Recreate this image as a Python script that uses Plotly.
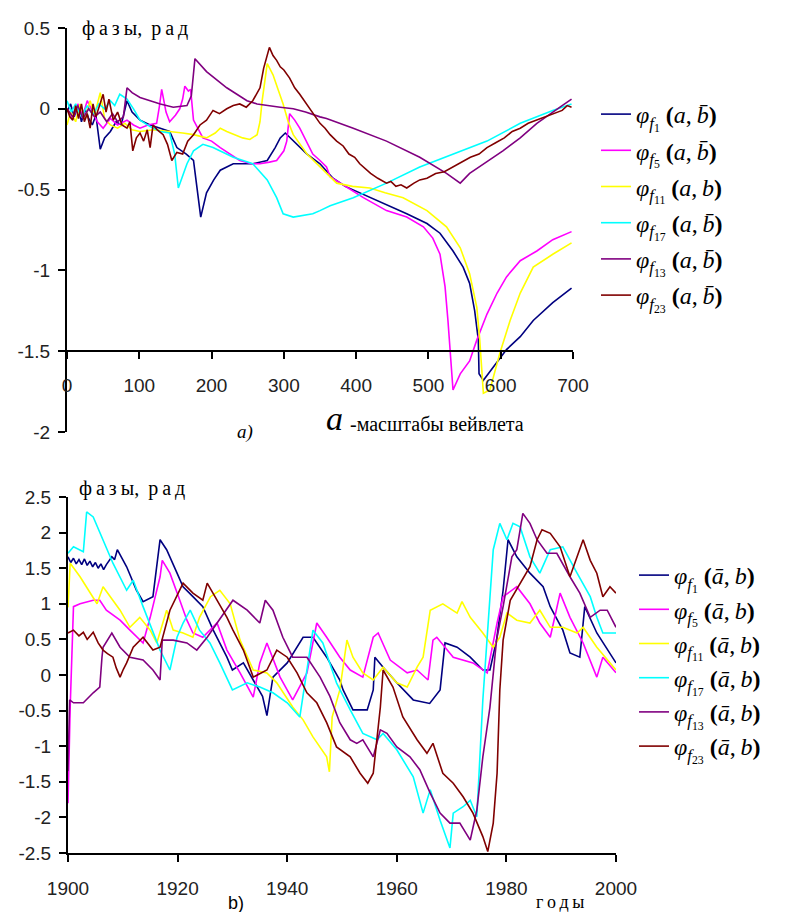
import plotly.graph_objects as go

# ---------------- Chart a) : phases vs wavelet scale ----------------
A_F1_X = [0, 5, 10, 15, 20, 25, 30, 35, 40, 46, 52, 60, 68, 75, 83, 90, 101, 115, 129, 142, 152, 165, 175, 185,
          193, 203, 212, 230, 257, 277, 288, 295, 302, 313, 332, 350, 368, 385, 405, 425, 442, 470, 498, 516,
          534, 548, 557, 564, 569, 570, 576, 590, 608, 627, 645, 672, 698]
A_F1_Y = [-0.02, 0.03, -0.05, 0.02, -0.08, 0.0, -0.06, -0.1, -0.04, -0.25, -0.18, -0.14, -0.08, -0.1, 0.05, -0.02,
          -0.07, -0.1, -0.12, -0.14, -0.24, -0.28, -0.32, -0.67, -0.52, -0.44, -0.38, -0.34, -0.34, -0.32, -0.24,
          -0.18, -0.15, -0.2, -0.28, -0.34, -0.43, -0.48, -0.52, -0.56, -0.59, -0.65, -0.71, -0.77, -0.88, -0.98,
          -1.08, -1.25, -1.43, -1.64, -1.68, -1.6, -1.49, -1.41, -1.31, -1.2, -1.11]

A_F5_X = [0, 8, 15, 22, 28, 35, 42, 50, 60, 70, 83, 92, 101, 112, 124, 128, 131, 134, 137, 142, 150, 156, 160, 163,
          168, 171, 175, 188, 200, 212, 225, 239, 255, 267, 280, 290, 300, 304, 308, 315, 322, 330, 340, 350, 359,
          364, 385, 410, 442, 470, 493, 506, 516, 523, 527, 532, 534, 544, 557, 567, 581, 595, 608, 627, 650, 672, 698]
A_F5_Y = [0.0, -0.06, 0.03, -0.04, 0.05, -0.02, -0.08, -0.12, -0.06, -0.1, -0.07, -0.1, -0.12, -0.1, -0.09, 0.02,
          0.12, 0.05, -0.02, -0.08, -0.04, 0.0, 0.06, 0.14, 0.11, 0.12, -0.07, -0.18, -0.2, -0.24, -0.28, -0.32,
          -0.34, -0.34, -0.33, -0.32, -0.26, -0.2, -0.03, -0.07, -0.12, -0.19, -0.28, -0.32, -0.36, -0.42, -0.48,
          -0.55, -0.63, -0.67, -0.73, -0.8, -0.9, -1.1, -1.31, -1.62, -1.74, -1.64, -1.56, -1.43, -1.27, -1.14,
          -1.04, -0.94, -0.88, -0.81, -0.76]

A_F11_X = [0, 5, 12, 18, 25, 32, 38, 46, 52, 60, 70, 80, 90, 101, 120, 142, 160, 175, 193, 205, 212, 221, 232, 243,
           253, 263, 267, 270, 277, 285, 292, 299, 306, 313, 332, 350, 373, 395, 419, 440, 465, 498, 525, 544, 557,
           567, 571, 576, 585, 599, 613, 627, 645, 672, 698]
A_F11_Y = [-0.1, -0.02, -0.08, 0.03, -0.06, 0.05, -0.04, 0.1, -0.06, -0.1, -0.12, -0.09, -0.13, -0.14, -0.13, -0.14,
           -0.15, -0.16, -0.18, -0.15, -0.12, -0.14, -0.16, -0.18, -0.19, -0.16, -0.08, 0.05, 0.28, 0.21, 0.12, 0.03,
           -0.08, -0.16, -0.28, -0.36, -0.46, -0.48, -0.49, -0.52, -0.55, -0.63, -0.73, -0.86, -1.02, -1.23, -1.43,
           -1.76, -1.74, -1.51, -1.31, -1.14, -0.98, -0.9, -0.83]

A_F17_X = [0, 6, 12, 20, 28, 36, 44, 52, 60, 66, 73, 83, 92, 101, 115, 129, 142, 149, 154, 160, 166, 175, 188, 202,
           215, 230, 257, 277, 290, 299, 313, 340, 350, 364, 396, 442, 488, 534, 581, 627, 672, 698]
A_F17_Y = [0.05, -0.02, 0.03, -0.05, 0.02, -0.04, 0.03, 0.0, 0.05, 0.02, 0.09, 0.06, 0.0, -0.07, -0.11, -0.14, -0.15,
           -0.28, -0.49, -0.42, -0.34, -0.26, -0.22, -0.24, -0.27, -0.3, -0.34, -0.44, -0.55, -0.65, -0.67, -0.65,
           -0.63, -0.6, -0.55, -0.46, -0.36, -0.28, -0.2, -0.09, -0.01, 0.03]

A_F13_X = [0, 8, 15, 22, 30, 38, 46, 55, 63, 70, 78, 81, 83, 90, 101, 115, 129, 147, 166, 172, 175, 177, 193, 207,
           221, 235, 249, 263, 277, 295, 313, 330, 350, 359, 396, 442, 488, 525, 544, 557, 580, 603, 627, 650, 682, 698]
A_F13_Y = [0.0, -0.05, 0.02, -0.06, 0.0, -0.05, -0.02, -0.08, -0.03, -0.08, -0.05, 0.08, 0.13, 0.1, 0.07, 0.05, 0.03,
           0.01, 0.02, 0.08, 0.2, 0.31, 0.23, 0.18, 0.13, 0.09, 0.05, 0.03, 0.02, 0.01, 0.0, -0.02, -0.05, -0.06,
           -0.12, -0.2, -0.3, -0.4, -0.46, -0.4, -0.33, -0.26, -0.18, -0.09, 0.01, 0.06]

A_F23_X = [0, 4, 8, 12, 16, 20, 24, 28, 32, 36, 40, 45, 50, 54, 58, 64, 70, 76, 83, 87, 91, 96, 101, 106, 111, 115,
           119, 125, 133, 139, 145, 152, 160, 167, 175, 184, 193, 202, 211, 221, 230, 239, 248, 257, 262, 267, 272,
           276, 280, 285, 290, 295, 300, 308, 315, 322, 330, 340, 350, 357, 364, 373, 382, 390, 398, 405, 412, 420,
           430, 442, 448, 455, 462, 470, 480, 488, 498, 510, 522, 534, 546, 558, 570, 581, 593, 605, 616, 627, 638,
           650, 661, 672, 685, 692, 698]
A_F23_Y = [0.0, -0.05, -0.07, 0.02, -0.06, 0.03, -0.08, -0.03, -0.12, 0.03, -0.05, 0.02, 0.09, -0.02, 0.06, -0.07,
           -0.02, -0.1, -0.12, -0.08, -0.26, -0.18, -0.15, -0.2, -0.13, -0.24, -0.1, -0.13, -0.16, -0.22, -0.32,
           -0.27, -0.28, -0.2, -0.16, -0.1, -0.07, -0.01, -0.03, 0.0, 0.02, 0.03, 0.01, 0.05, 0.09, 0.13, 0.25, 0.32,
           0.38, 0.33, 0.3, 0.26, 0.24, 0.19, 0.13, 0.09, 0.04, -0.03, -0.09, -0.12, -0.16, -0.2, -0.23, -0.28,
           -0.3, -0.34, -0.37, -0.4, -0.43, -0.46, -0.45, -0.48, -0.47, -0.49, -0.46, -0.44, -0.43, -0.4, -0.39,
           -0.36, -0.33, -0.3, -0.28, -0.24, -0.21, -0.18, -0.14, -0.12, -0.09, -0.07, -0.05, -0.03, -0.01, 0.02, 0.01]

# ---------------- Chart b) : phases vs years ----------------
B_F1_X = [1900, 1900.5, 1901, 1901.5, 1902, 1902.5, 1903, 1903.5, 1904, 1904.5, 1905, 1905.5, 1906, 1906.5, 1907,
          1907.5, 1908, 1908.5, 1909, 1910.7, 1912.5, 1913.7, 1915.5, 1916.8, 1918,
          1919.9, 1921, 1922.8, 1924.6, 1926.5, 1929, 1930, 1932, 1933.8, 1935.5, 1936.3, 1937.4, 1940, 1942.9,
          1944.7, 1947.2, 1949.6, 1950.2, 1952, 1954.6, 1955.7, 1956, 1957.5, 1960, 1963, 1966, 1967.9, 1968.8,
          1971, 1973.4, 1975.7, 1977, 1978.2, 1979.4, 1980.3, 1981.9, 1984.3, 1986.7, 1988, 1990.3, 1991.6,
          1993.4, 1994.3, 1996.5, 2000]
B_F1_Y = [1.66, 1.58, 1.64, 1.56, 1.62, 1.55, 1.63, 1.54, 1.6, 1.52, 1.58, 1.5, 1.56, 1.48, 1.55,
          1.6, 1.66, 1.62, 1.76, 1.52, 1.19, 1.03, 1.1, 1.9, 1.76, 1.43, 1.24,
          1.1, 0.96, 0.63, 0.25, 0.07, 0.17, -0.07, -0.3, -0.57, -0.03, 0.17, 0.53, 0.53, 0.25, -0.07, -0.21, -0.49,
          -0.49, -0.21, 0.25, 0.11, -0.11, -0.35, -0.4, -0.21, 0.45, 0.39, 0.25, 0.07, 0.07, 0.49, 1.19, 1.9, 1.66,
          1.43, 1.24, 0.96, 0.63, 0.31, 0.25, 0.96, 0.59, 0.17]

B_F5_X = [1900, 1900.4, 1901, 1902.2, 1904.6, 1905.8, 1907, 1909.5, 1911.3, 1913.7, 1915, 1916.8, 1917.2, 1918.6,
          1920.4, 1921.7, 1922.8, 1924.6, 1927.2, 1929, 1931.4, 1933.8, 1935, 1936.3, 1938.7, 1941, 1943.6, 1945.4,
          1947.2, 1949.6, 1951.5, 1953.8, 1955.7, 1956.6, 1958.8, 1961.9, 1963.7, 1965.7, 1966.6, 1967.3, 1970.3,
          1973.9, 1976.5, 1978.3, 1979.4, 1981.9, 1984.3, 1986.1, 1988, 1989.8, 1991.6, 1994, 1996.5, 1997.6, 2000]
B_F5_Y = [-1.8, -0.45, 0.96, 1.0, 1.05, 1.05, 0.91, 0.77, 0.63, 0.45, 0.81, 1.38, 1.61, 1.43, 1.05, 0.77, 0.59, 0.53,
          0.73, 0.35, 0.03, -0.31, 0.17, 0.45, -0.03, -0.35, 0.03, 0.73, 0.53, 0.25, 0.07, -0.03, 0.53, 0.59, 0.21,
          0.03, 0.07, -0.07, 0.49, 0.53, 0.25, 0.17, 0.03, 0.73, 1.1, 1.24, 1.0, 0.73, 0.53, 1.15, 0.81, 0.45,
          -0.03, 0.25, 0.03]

B_F11_X = [1900, 1900.4, 1902.2, 1903.4, 1905.3, 1906.4, 1907.7, 1909.5, 1911.3, 1913.1, 1915, 1916.2, 1918, 1919.2,
           1921, 1922.8, 1924, 1926, 1927.7, 1929.6, 1931.4, 1933.8, 1936.3, 1938.1, 1941, 1942.9, 1944.7, 1947.2,
           1947.7, 1948.2, 1949.6, 1950.9, 1952, 1953.8, 1955.7, 1957.5, 1960, 1961.9, 1963.7, 1964.8, 1966.1,
           1968.4, 1971, 1971.9, 1973.4, 1975.7, 1977.6, 1978.8, 1980.1, 1981.9, 1984.3, 1986.1, 1988, 1990.3,
           1992.9, 1994, 1996.5, 2000]
B_F11_Y = [0.95, 1.57, 1.38, 1.24, 1.0, 1.24, 1.1, 0.91, 0.67, 0.81, 0.63, 0.45, 0.91, 0.63, 0.59, 0.53, 0.81, 1.1,
           1.19, 1.0, 0.49, 0.07, 0.03, -0.11, -0.45, -0.63, -0.87, -1.15, -1.36, -0.59, -0.21, 0.49, 0.25, 0.03,
           -0.07, 0.11, -0.11, -0.17, 0.11, 0.25, 0.91, 1.0, 0.87, 1.03, 0.81, 0.59, 0.39, 0.53, 0.87, 0.77, 0.73,
           0.91, 0.67, 0.67, 0.59, 0.67, 0.39, 0.07]

B_F17_X = [1900, 1901, 1902.8, 1903.4, 1904.6, 1906.4, 1908.2, 1910.7, 1911.9, 1913.7, 1915.5, 1916.8, 1918.6,
           1919.9, 1921, 1922.3, 1924, 1925.9, 1927.7, 1930, 1932.7, 1935, 1937.4, 1940, 1942.3, 1944.7, 1946.5,
           1949, 1951.5, 1953.8, 1956.4, 1957.5, 1960, 1963, 1964.8, 1966.1, 1967.9, 1969.7, 1970.3, 1972.1,
           1973.4, 1974.6, 1975.7, 1977, 1977.6, 1978.8, 1980.1, 1981.2, 1982.5, 1984.3, 1986.1, 1988, 1990.3,
           1992.9, 1995.3, 1996.5, 1997.6, 2000]
B_F17_Y = [1.71, 1.8, 1.73, 2.29, 2.22, 1.9, 1.57, 1.19, 1.33, 0.96, 0.59, 0.35, 0.07, 0.53, 0.73, 0.91, 0.63, 0.45,
           0.17, -0.21, -0.11, -0.17, -0.25, -0.39, -0.59, 0.63, 0.45, -0.11, -0.49, -0.82, -0.91, -0.82, -1.05,
           -1.43, -1.94, -1.61, -2.04, -2.43, -1.94, -1.85, -1.76, -1.99, -0.35, 1.19, 1.76, 2.13, 1.9, 2.13, 2.08,
           1.66, 1.43, 1.76, 1.8, 1.43, 1.1, 0.81, 0.59, 0.59]

B_F13_X = [1900, 1900.3, 1901, 1902.8, 1904.6, 1905.8, 1906.2, 1906.4, 1908, 1909.5, 1911.3, 1913.7, 1915.5, 1916.8,
           1917.2, 1919.2, 1921.7, 1923.5, 1925.4, 1927.2, 1930.1, 1932.7, 1935, 1936, 1937.4, 1939.2, 1941, 1943.6,
           1946, 1947.8, 1949.6, 1951.5, 1952.7, 1953.8, 1955.7, 1957, 1958.2, 1960, 1962.4, 1964.2, 1966.1, 1967.9,
           1969.7, 1971.5, 1973.4, 1974.6, 1975.7, 1977, 1978.2, 1979.4, 1981, 1981.9, 1983, 1984.3, 1985.6, 1987.4,
           1989.2, 1991.6, 1993.4, 1995.3, 1997.1, 1998.4, 2000]
B_F13_Y = [-1.35, -0.35, -0.39, -0.39, -0.25, -0.17, 0.25, 0.39, 0.59, 0.39, 0.25, 0.21, 0.07, -0.07, 0.49, 0.49,
           0.45, 0.35, 0.53, 0.73, 1.05, 0.91, 0.73, 1.05, 0.91, 0.53, 0.25, 0.25, -0.03, -0.3, -0.67, -0.91, -0.96,
           -0.91, -1.15, -0.77, -0.82, -1.01, -1.15, -1.33, -1.66, -1.94, -2.08, -2.08, -2.32, -1.9, -1.15, -0.45,
           0.49, 0.96, 1.66, 1.76, 2.27, 2.13, 1.9, 1.71, 1.71, 1.38, 1.15, 0.81, 0.91, 0.91, 0.67]

B_F23_X = [1900, 1901, 1902, 1902.8, 1903.5, 1904.6, 1905.5, 1906.4, 1907.2, 1908.2, 1908.8, 1909.5, 1910.1, 1910.7,
           1911.9, 1913.7, 1915.5, 1916.8, 1918.6, 1921,
           1922.8, 1924.6, 1925.4, 1927.2, 1929, 1930.1, 1932, 1933.8, 1936.3, 1938.1, 1940, 1941.8, 1943.6, 1945.4,
           1947.2, 1949, 1951.5, 1953.3, 1954.7, 1955.7, 1957, 1957.5, 1959.3, 1961.1, 1963.7, 1965.5, 1966.6,
           1968.4, 1970.3, 1972.1, 1973.9, 1975.7, 1976.6, 1977.6, 1978.3, 1978.8, 1979.4, 1980.7, 1982.5, 1984.3,
           1985.6, 1986.5, 1988, 1989.8, 1991.6, 1992.9, 1994, 1995.3, 1996.5, 1997.6, 1998.9, 2000]
B_F23_Y = [0.59, 0.63, 0.55, 0.6, 0.5, 0.6, 0.45, 0.35, 0.3, 0.25, 0.1, -0.03, 0.08, 0.17,
           0.39, 0.53, 0.35, 0.39, 0.91, 1.29, 1.15, 1.05, 1.29,
           1.05, 0.81, 0.63, 0.35, -0.03, 0.07, 0.35, 0.25, 0.03, -0.25, -0.39, -0.67, -1.01, -1.15, -1.38, -1.52,
           -1.38, -0.45, 0.07, -0.17, -0.59, -0.91, -1.1, -0.96, -1.38, -1.52, -1.71, -1.94, -2.27, -2.48, -2.08,
           -1.38, -0.21, 0.49, 1.05, 1.29, 1.52, 1.9, 2.04, 1.99, 1.8, 1.38, 1.66, 1.9, 1.61, 1.43, 1.1, 1.24, 1.15]

COLORS = ["#000080", "#FF00FF", "#FFFF00", "#00FFFF", "#800080", "#800000"]
SUBS = ["1", "5", "11", "17", "13", "23"]
ARGS_A = ["b̄", "b̄", "b", "b̄", "b̄", "b̄"]

A_TICKS_X = [0, 100, 200, 300, 400, 500, 600, 700]
A_TICKS_Y = [0.5, 0, -0.5, -1, -1.5, -2]
A_TICKTEXT_Y = ["0.5", "0", "-0.5", "-1", "-1.5", "-2"]
B_TICKS_X = [1900, 1920, 1940, 1960, 1980, 2000]
B_TICKS_Y = [2.5, 2, 1.5, 1, 0.5, 0, -0.5, -1, -1.5, -2, -2.5]
B_TICKTEXT_Y = ["2.5", "2", "1.5", "1", "0.5", "0", "-0.5", "-1", "-1.5", "-2", "-2.5"]

# The page body has an 8px margin, so the figure is drawn 8px smaller and all
# reference pixel positions are shifted by that offset.
OFF = 8
W, H = 785 - OFF, 912 - OFF
SANS = "Liberation Sans, Arial, sans-serif"
SERIF = "Liberation Serif, Times New Roman, serif"


def px_x(p):
    return (p - OFF) / W


def px_y(p):
    return 1 - (p - OFF) / H


def label_a(i):
    return ("<i>φ</i><sub><i>f</i><sub>%s</sub></sub> <b>(</b><i>a</i>,\u2009<i>%s</i><b>)</b>"
            % (SUBS[i], ARGS_A[i]))


def label_b(i):
    return ("<i>φ</i><sub><i>f</i><sub>%s</sub></sub> <b>(</b><i>ā</i>,\u2009<i>b</i><b>)</b>" % SUBS[i])


fig = go.Figure()
A_DATA = [(A_F1_X, A_F1_Y), (A_F5_X, A_F5_Y), (A_F11_X, A_F11_Y), (A_F17_X, A_F17_Y), (A_F13_X, A_F13_Y),
          (A_F23_X, A_F23_Y)]
B_DATA = [(B_F1_X, B_F1_Y), (B_F5_X, B_F5_Y), (B_F11_X, B_F11_Y), (B_F17_X, B_F17_Y), (B_F13_X, B_F13_Y),
          (B_F23_X, B_F23_Y)]

for i, (xs, ys) in enumerate(A_DATA):
    fig.add_trace(go.Scatter(x=xs, y=ys, mode="lines", line=dict(color=COLORS[i], width=1.6),
                             name=label_a(i), xaxis="x", yaxis="y", legend="legend",
                             legendgroup="a%d" % i))
for i, (xs, ys) in enumerate(B_DATA):
    fig.add_trace(go.Scatter(x=xs, y=ys, mode="lines", line=dict(color=COLORS[i], width=1.6),
                             name=label_b(i), xaxis="x2", yaxis="y2", legend="legend2",
                             legendgroup="b%d" % i))

# axis geometry (pixels)
A_X0, A_X1 = 67, 573
A_Y_TOP, A_Y_BOT = 28, 432      # value 0.5 and -2
A_AXIS_Y = A_Y_TOP + (0.5 - (-1.5)) / 2.5 * (A_Y_BOT - A_Y_TOP)
B_X0, B_X1 = 68, 616
B_Y_TOP, B_Y_BOT = 497, 853

axis_common = dict(showline=True, linecolor="black", linewidth=2, ticks="outside", ticklen=7, tickwidth=2,
                   tickcolor="black", showgrid=False, zeroline=False, automargin=False,
                   tickfont=dict(family=SANS, size=19, color="#222"))

fig.update_layout(
    width=W, height=H, margin=dict(l=0, r=0, t=0, b=0, autoexpand=False),
    paper_bgcolor="white", plot_bgcolor="white",
    xaxis=dict(domain=[px_x(A_X0), px_x(A_X1)], range=[0, 700], anchor="free", position=px_y(A_AXIS_Y),
               tickvals=A_TICKS_X, ticktext=[str(v) for v in A_TICKS_X], ticklabelstandoff=10, **axis_common),
    yaxis=dict(domain=[px_y(A_Y_BOT), px_y(A_Y_TOP)], range=[-2, 0.5], anchor="x",
               tickvals=A_TICKS_Y, ticktext=A_TICKTEXT_Y, ticklabelstandoff=4, **axis_common),
    xaxis2=dict(domain=[px_x(B_X0), px_x(B_X1)], range=[1900, 2000], anchor="y2",
                tickvals=B_TICKS_X, ticktext=[str(v) for v in B_TICKS_X], ticklabelstandoff=10, **axis_common),
    yaxis2=dict(domain=[px_y(B_Y_BOT), px_y(B_Y_TOP)], range=[-2.5, 2.5], anchor="x2",
                tickvals=B_TICKS_Y, ticktext=B_TICKTEXT_Y, ticklabelstandoff=4, **axis_common),
    legend=dict(x=px_x(596), y=px_y(92), xanchor="left", yanchor="top", tracegroupgap=2,
                font=dict(family=SERIF, size=24, color="black"), bgcolor="rgba(0,0,0,0)"),
    legend2=dict(x=px_x(634), y=px_y(553), xanchor="left", yanchor="top", tracegroupgap=0,
                 font=dict(family=SERIF, size=24, color="black"), bgcolor="rgba(0,0,0,0)"),
)

ann = [
    dict(x=px_x(80), y=px_y(28), text="ф\u2009а\u2009з\u2009ы,\u2009 р\u2009а\u2009д", xanchor="left",
         font=dict(family=SERIF, size=20, color="black")),
    dict(x=px_x(77), y=px_y(489), text="ф\u2009а\u2009з\u2009ы,\u2009 р\u2009а\u2009д", xanchor="left",
         font=dict(family=SERIF, size=20, color="black")),
    dict(x=px_x(245), y=px_y(432), text="<i>а)</i>", xanchor="center",
         font=dict(family=SERIF, size=19, color="black")),
    dict(x=px_x(324), y=px_y(418), text="<i>a</i>", xanchor="left",
         font=dict(family=SERIF, size=34, color="black")),
    dict(x=px_x(348), y=px_y(424), text="-масштабы вейвлета", xanchor="left",
         font=dict(family=SERIF, size=20, color="black")),
    dict(x=px_x(236), y=px_y(903), text="b)", xanchor="center",
         font=dict(family=SANS, size=18, color="black")),
    dict(x=px_x(560), y=px_y(902), text="г\u2009о\u2009д\u2009ы", xanchor="center",
         font=dict(family=SERIF, size=18, color="black")),
]
for a in ann:
    a.update(xref="paper", yref="paper", showarrow=False, yanchor="middle")
fig.update_layout(annotations=ann)

fig.write_html("out.html")
